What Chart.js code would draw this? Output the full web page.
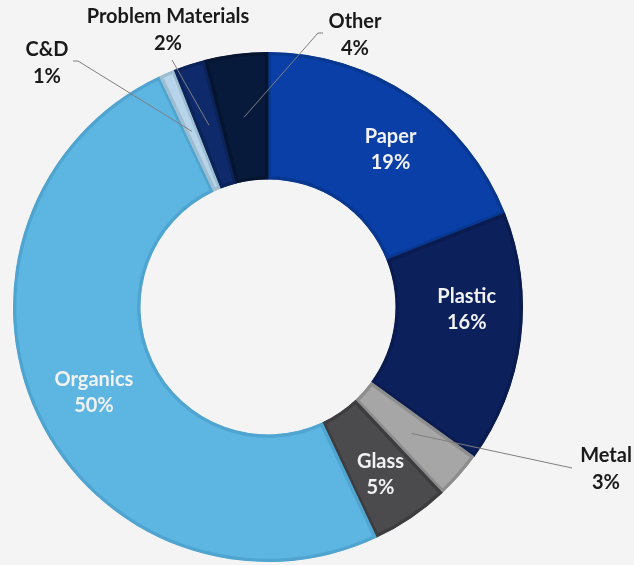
<!DOCTYPE html>
<html>
<head>
<meta charset="utf-8">
<script src="https://cdn.jsdelivr.net/npm/chart.js@4/dist/chart.umd.min.js"></script>
<style>
  html, body { margin: 0; padding: 0; background: #f4f4f4; }
  #wrap { width: 634px; height: 565px; position: relative; }
</style>
</head>
<body>
<div id="wrap"><canvas id="waste_chart" width="634" height="565"></canvas></div>
<script>
// データ
const categories = ["Paper", "Plastic", "Metal", "Glass", "Organics", "C&D", "Problem Materials", "Other"];
const shares = [19, 16, 3, 5, 50, 1, 2, 4];

const fillColors = ['#0a3fa8', '#0c205c', '#a6a6a6', '#4b4b4e', '#5db5e1', '#b8d4ea', '#0f2a6b', '#071a3b'];
const edgeColors = ['#08378f', '#0a1b4f', '#8d8d8d', '#3d3d40', '#4fa4d0', '#9dbdd1', '#0c2359', '#06152f'];

// ラベルの位置（inside: 中心からのずれ / outside: 文字の位置と引き出し線）
const labelLayout = [
    { inside: true, dx: 15, dy: 1 },
    { inside: true, dx: 9, dy: -21 },
    { inside: false, x: 606, y: 469, lineTo: [[572, 468]] },
    { inside: true, dx: 5, dy: 9 },
    { inside: true, dx: -1, dy: 4 },
    { inside: false, x: 47, y: 63, lineTo: [[78, 61], [73, 61]] },
    { inside: false, x: 168, y: 30, lineTo: [[172, 60]] },
    { inside: false, x: 355, y: 35, lineTo: [[318, 33], [323, 33]] }
];

const FONT = 'bold 20px Lato, "Open Sans", sans-serif';

const labelPlugin = {
    id: 'sliceLabels',
    afterDatasetsDraw(chart) {
        const ctx = chart.ctx;
        const arcs = chart.getDatasetMeta(0).data;
        ctx.save();
        ctx.font = FONT;
        ctx.textAlign = 'center';
        ctx.textBaseline = 'middle';
        arcs.forEach((arc, i) => {
            const p = arc.tooltipPosition();
            const lay = labelLayout[i];
            const pct = shares[i] + '%';
            if (lay.inside) {
                const x = p.x + lay.dx, y = p.y + lay.dy;
                ctx.fillStyle = '#f2f2f2';
                ctx.fillText(categories[i], x, y - 13);
                ctx.fillText(pct, x, y + 13);
            } else {
                // 引き出し線
                ctx.strokeStyle = '#7f7f7f';
                ctx.lineWidth = 1;
                ctx.beginPath();
                ctx.moveTo(p.x, p.y);
                lay.lineTo.forEach(pt => ctx.lineTo(pt[0], pt[1]));
                ctx.stroke();
                ctx.fillStyle = '#1a1a1a';
                ctx.fillText(categories[i], lay.x, lay.y - 13);
                ctx.fillText(pct, lay.x, lay.y + 14);
            }
        });
        ctx.restore();
    }
};

const bgPlugin = {
    id: 'bg',
    beforeDraw(chart) {
        const ctx = chart.ctx;
        ctx.save();
        ctx.fillStyle = '#f4f4f4';
        ctx.fillRect(0, 0, chart.width, chart.height);
        ctx.restore();
    }
};

new Chart(document.getElementById('waste_chart').getContext('2d'), {
    type: 'doughnut',
    data: {
        labels: categories,
        datasets: [{
            data: shares,
            backgroundColor: fillColors,
            borderColor: edgeColors,
            borderWidth: 3,
            borderAlign: 'inner'
        }]
    },
    plugins: [bgPlugin, labelPlugin],
    options: {
        responsive: false,
        animation: false,
        cutout: '50%',
        layout: { padding: { left: 13, right: 111, top: 52, bottom: 3 } },
        plugins: {
            legend: { display: false },
            tooltip: { enabled: false }
        }
    }
});
</script>
</body>
</html>
